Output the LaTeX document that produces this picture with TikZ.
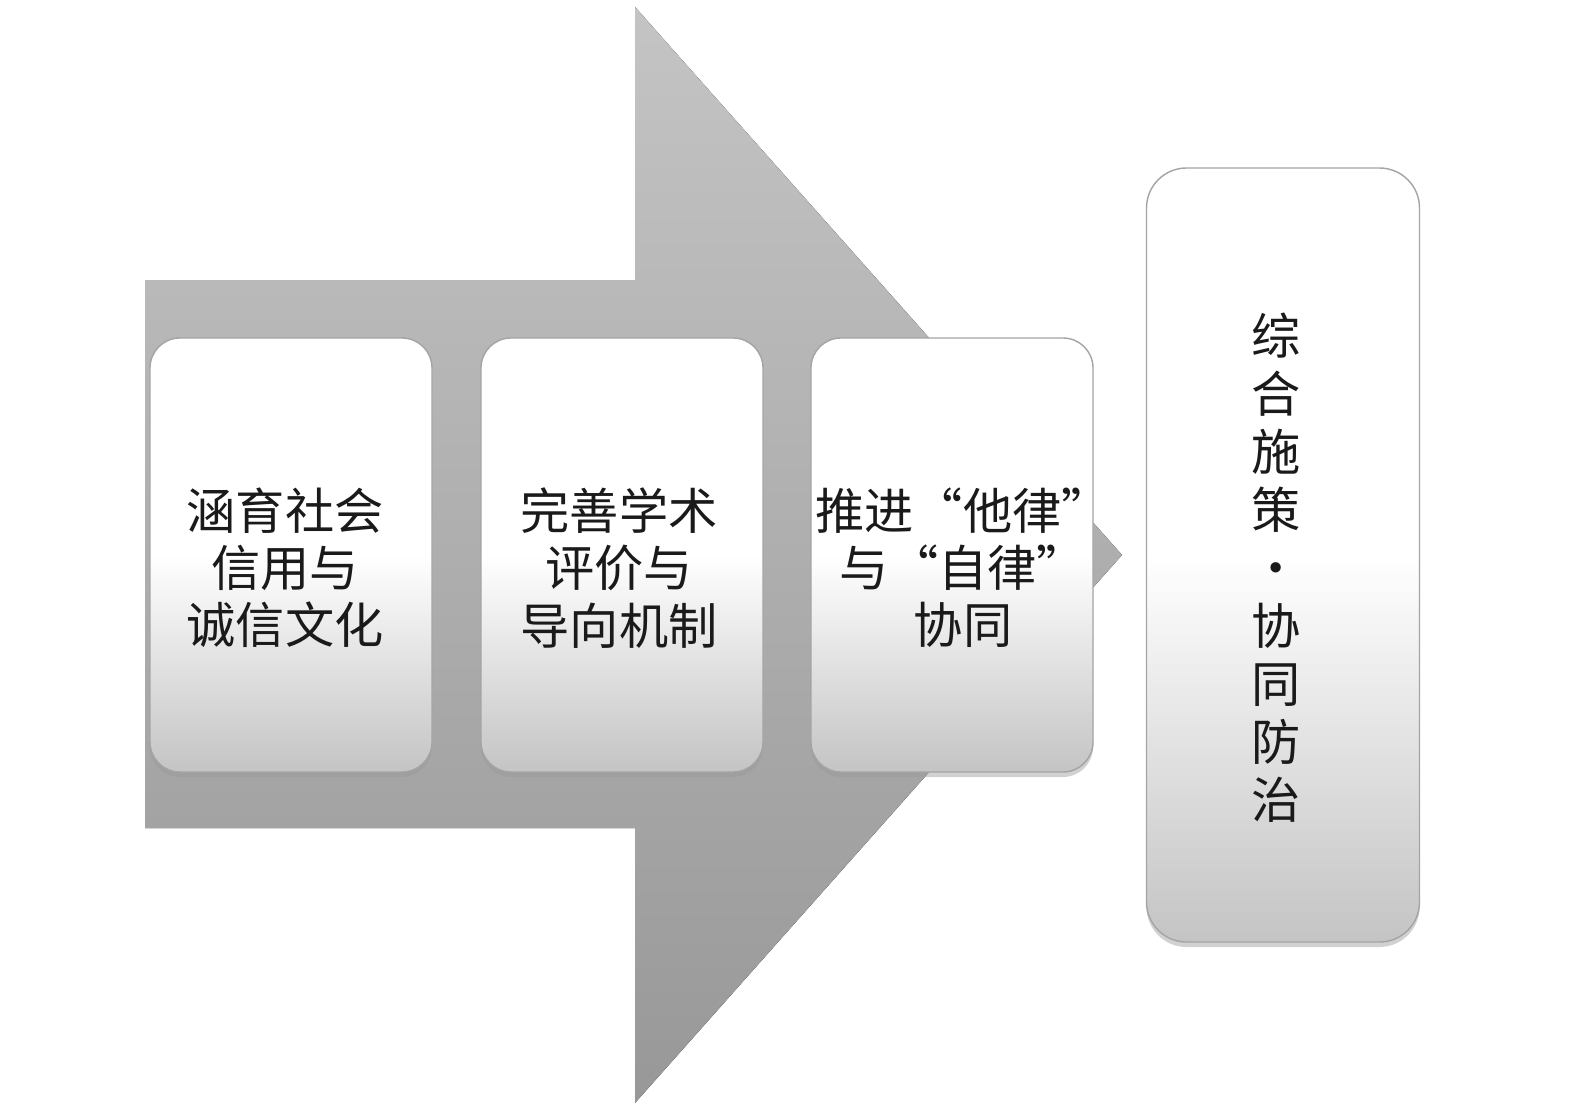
\documentclass[tikz,border=0pt]{standalone}
\usepackage{fontspec}
\newfontfamily\cjk{Noto Sans CJK SC}
\usetikzlibrary{shadows}
\definecolor{ink}{HTML}{1A1A1A}
\definecolor{rim}{HTML}{A4A4A4}
\definecolor{shade}{HTML}{C4C4C4}
\definecolor{flowtop}{HTML}{C4C4C4}
\definecolor{flowbot}{HTML}{989898}
\tikzset{
  flow/.style={top color=flowtop,bottom color=flowbot,draw=none},
  box/.style={draw=rim,line width=.8pt,rounded corners=6mm,top color=white,bottom color=shade,middle color=white,
    drop shadow={shadow xshift=0mm,shadow yshift=-1mm,fill=black!40,opacity=.45},
    minimum width=56.4mm,minimum height=86.8mm,inner sep=0pt},
  boxv/.style={box,rounded corners=8mm,minimum width=54.6mm,minimum height=154.8mm},
  lbl/.style={align=center,text=ink,inner sep=0pt,font=\cjk\fontsize{28}{32.5}\selectfont},
  lblv/.style={lbl,font=\cjk\fontsize{28}{33}\selectfont},
}
\begin{document}
\begin{tikzpicture}[x=.2mm,y=-.2mm]
  \useasboundingbox (0,0) rectangle (1575,1114);
  % big arrow behind the steps
  \fill[flow] (145,280) -- (635,280) -- (635,7) -- (1122,555) -- (635,1103) -- (635,828) -- (145,828) -- cycle;

  \node[box] (credit) at (291,555) {};
  \node[box] (review) at (622,555) {};
  \node[box] (law) at (952,555) {};
  \node[boxv] (result) at (1283,555) {};

  \node[lbl] (creditText) at (285,568) {涵育社会\\信用与\\诚信文化};
  \node[lbl] (reviewText) at (619,568) {完善学术\\评价与\\导向机制};
  \node[lbl] (lawText) at (963,568) {推进“他律”\\与“自律”\\协同};
  \node[lblv] (resultText) at (1276,568) {综\\合\\施\\策\\·\\协\\同\\防\\治};
\end{tikzpicture}
\end{document}
